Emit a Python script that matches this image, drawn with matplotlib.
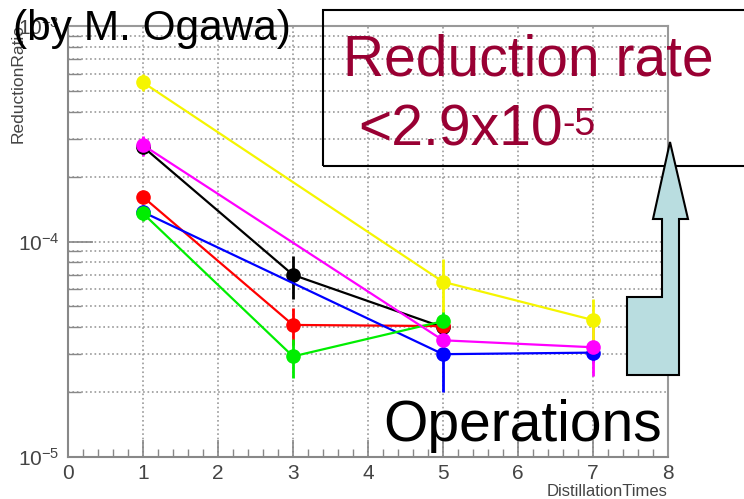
import matplotlib
matplotlib.use("Agg")
import matplotlib.pyplot as plt
from matplotlib.patches import Rectangle, Polygon
from matplotlib.ticker import LogLocator, MultipleLocator, FixedLocator
import numpy as np

plt.rcParams['font.family'] = ['Liberation Sans', 'DejaVu Sans']
plt.rcParams['mathtext.fontset'] = 'custom'
plt.rcParams['mathtext.rm'] = 'Liberation Sans'
plt.rcParams['mathtext.it'] = 'Liberation Sans'

# distillation steps
times_a = [1, 3, 5]   # black, red, green
times_b = [1, 5, 7]   # blue, magenta, yellow

# reduction ratio per sample
black = [2.75e-4, 7.0e-5, 4.0e-5]
black_err = [0.2e-4, 1.6e-5, 0.3e-5]
red = [1.61e-4, 4.1e-5, 4.05e-5]
red_err = [0.1e-4, 0.8e-5, 0.4e-5]
green = [1.35e-4, 2.93e-5, 4.27e-5]
green_err = [0.1e-4, 0.6e-5, 0.6e-5]
blue = [1.37e-4, 3.0e-5, 3.05e-5]
blue_err = [0.1e-4, 1.0e-5, 0.3e-5]
magenta = [2.8e-4, 3.48e-5, 3.23e-5]
magenta_err = [0.3e-4, 0.6e-5, 0.85e-5]
yellow = [5.47e-4, 6.5e-5, 4.32e-5]
yellow_err = [0.5e-4, 1.8e-5, 1.1e-5]

series = [
    (times_a, black, black_err, '#000000'),
    (times_a, red, red_err, '#ff0000'),
    (times_b, blue, blue_err, '#0000ff'),
    (times_a, green, green_err, '#00ee00'),
    (times_b, magenta, magenta_err, '#ff00ff'),
    (times_b, yellow, yellow_err, '#f5f500'),
]

W, H = 744, 499
fig = plt.figure(figsize=(W / 100, H / 100), dpi=100)
ax = fig.add_axes([68 / W, 1 - 457 / H, 600 / W, 431 / H])

for x, y, e, c in series:
    ax.errorbar(x, y, yerr=e, color=c, marker='o', markersize=9.5, linewidth=1.6,
                elinewidth=2, capsize=0)

ax.set_yscale('log')
ax.set_xlim(0, 8)
ax.set_ylim(1e-5, 1e-3)

# ROOT-like frame
grey = '#888888'
for s in ax.spines.values():
    s.set_color(grey)
    s.set_linewidth(1.5)
ax.spines['top'].set_color('#999999')
ax.spines['right'].set_color('#999999')

ax.xaxis.set_major_locator(MultipleLocator(1))
ax.xaxis.set_minor_locator(MultipleLocator(0.2))
ax.yaxis.set_major_locator(FixedLocator([1e-5, 1e-4, 1e-3]))
ax.yaxis.set_minor_locator(LogLocator(base=10, subs=np.arange(2, 10)))
ax.set_yticklabels([r'$10^{-5}$', r'$10^{-4}$', r'$10^{-3}$'])
ax.yaxis.set_minor_formatter(plt.NullFormatter())

ax.tick_params(axis='both', which='both', direction='in', colors=grey,
               labelcolor='#444444', labelsize=15)
ax.tick_params(axis='x', which='major', length=12, width=1.2, pad=5)
ax.tick_params(axis='x', which='minor', length=6, width=1.0)
ax.tick_params(axis='y', which='major', length=18, width=1.2, pad=6)
ax.tick_params(axis='y', which='minor', length=9, width=1.0)

ax.grid(True, which='major', axis='x', color='#999999', linestyle=':', linewidth=1.2)
ax.grid(True, which='both', axis='y', color='#999999', linestyle=':', linewidth=1.2)
ax.set_axisbelow(True)

# axis titles, ROOT style
fig.text(668 / W, 1 - 484 / H, 'DistillationTimes', ha='right', va='top',
         fontsize=12, color='#444444')
fig.text(18 / W, 1 - 24 / H, 'ReductionRatio', rotation=90, ha='center', va='top',
         fontsize=12.5, color='#444444')

# slide overlay: credit, box, arrow and captions
fig.text(13 / W, 1 - 40 / H, '(by M. Ogawa)', ha='left', va='baseline',
         fontsize=30.5, color='black')

box = Rectangle((323 / W, 1 - 166 / H), 440 / W, 156 / H, transform=fig.transFigure,
                fill=False, edgecolor='black', linewidth=1.5, zorder=5)
fig.add_artist(box)

maroon = '#990033'
fig.text(343 / W, 1 - 76 / H, 'Reduction rate', ha='left', va='baseline',
         fontsize=41, color=maroon, zorder=6)
t2 = fig.text(358 / W, 1 - 145 / H, '<2.9x10', ha='left', va='baseline',
              fontsize=41, color=maroon, zorder=6)
ax.annotate('-5', xy=(1.0, 0.92), xycoords=t2, ha='left', va='top',
            fontsize=27, color=maroon, annotation_clip=False)

arrow_px = [(670, 142), (688, 219), (679, 219), (679, 375), (627, 375),
            (627, 297), (662, 297), (662, 219), (653, 219)]
arrow = Polygon([(px / W, 1 - py / H) for px, py in arrow_px], closed=True,
                transform=fig.transFigure, facecolor='#b9dde0', edgecolor='black',
                linewidth=1.5, zorder=7)
fig.add_artist(arrow)

fig.text(383 / W, 1 - 441 / H, 'Operations', ha='left', va='baseline',
         fontsize=41, color='black', zorder=6)

fig.savefig('out.png', dpi=100)
